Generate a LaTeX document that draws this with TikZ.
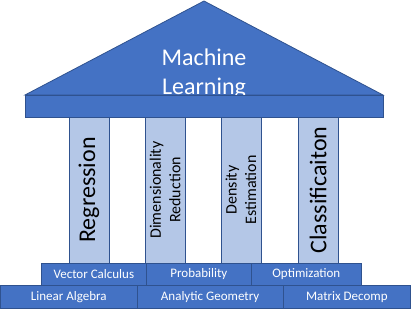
\documentclass[tikz,border=0pt]{standalone}
\usepackage{fontspec}
\setmainfont{Carlito}
\definecolor{mlblue}{HTML}{4472C4}
\definecolor{mledge}{HTML}{2F528F}
\definecolor{mllight}{HTML}{B4C7E7}
\begin{document}
\begin{tikzpicture}[x=1pt,y=-1pt,
  bluebox/.style={draw=mledge,fill=mlblue,line width=0.8pt,anchor=north west,inner sep=0pt,outer sep=0pt,text=white,font=\fontsize{13}{15}\selectfont},
  pillar/.style={draw=mledge,fill=mllight,line width=0.8pt,anchor=north west,inner sep=0pt,outer sep=0pt,minimum width=40pt,minimum height=146pt},
  pillartext/.style={rotate=90,align=center,text=black},
  bigtext/.style={font=\fontsize{24}{29}\selectfont},
  smalltext/.style={font=\fontsize{16}{19.5}\selectfont}]
\useasboundingbox (0,0) rectangle (411,313);
% roof
\draw[draw=mledge,fill=mlblue,line width=0.8pt] (25,95) -- (204,1) -- (383,95) -- cycle;
\node[bigtext,text=white,align=center] (title) at (204,74) {Machine\\Learning};
\node[bluebox,minimum width=358pt,minimum height=22pt] (beam) at (25,95) {};
% pillars
\node[pillar] (p1) at (69,117) {};
\node[pillar] (p2) at (145,117) {};
\node[pillar] (p3) at (221,117) {};
\node[pillar] (p4) at (298,117) {};
\node[pillartext,bigtext] (t1) at (p1.center) {Regression};
\node[pillartext,smalltext] (t2) at (p2.center) {Dimensionality\\Reduction};
\node[pillartext,smalltext] (t3) at (p3.center) {Density\\Estimation};
\node[pillartext,bigtext] (t4) at (p4.center) {Classificaiton};
% steps
\node[bluebox,minimum width=105.7pt,minimum height=22pt] (vc) at (41,263) {Vector Calculus};
\node[bluebox,minimum width=104.3pt,minimum height=22pt] (pr) at (146.7,263) {Probability};
\node[bluebox,minimum width=110.7pt,minimum height=22pt] (op) at (251,263) {Optimization};
\node[bluebox,minimum width=136.7pt,minimum height=22.5pt] (la) at (0.4,285.8) {Linear Algebra};
\node[bluebox,minimum width=146pt,minimum height=22.5pt] (ag) at (137.1,285.8) {Analytic Geometry};
\node[bluebox,minimum width=127.5pt,minimum height=22.5pt] (md) at (283.1,285.8) {Matrix Decomp};
\end{tikzpicture}
\end{document}
